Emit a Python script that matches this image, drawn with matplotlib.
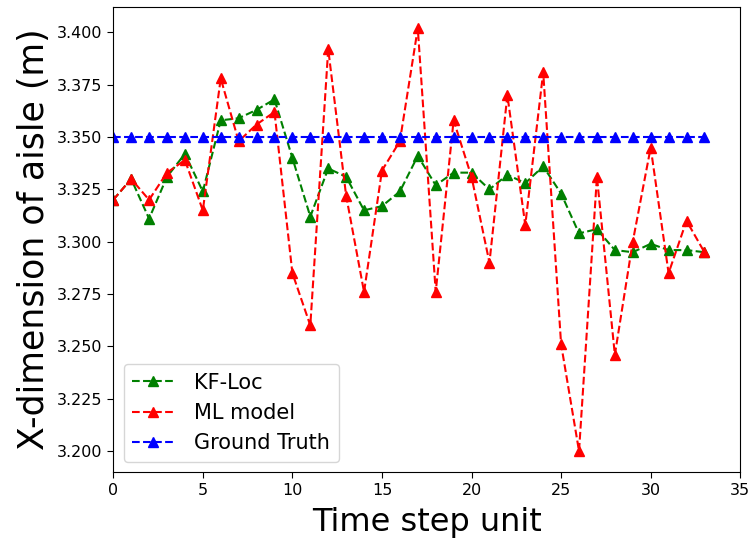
import matplotlib
matplotlib.use("Agg")
import matplotlib.pyplot as plt
import numpy as np

# values
time_steps = np.arange(34)

kf_loc = [3.320, 3.330, 3.311, 3.331, 3.342, 3.324, 3.358, 3.359, 3.363, 3.368,
          3.340, 3.312, 3.335, 3.331, 3.315, 3.317, 3.324, 3.341, 3.327, 3.333,
          3.333, 3.325, 3.332, 3.328, 3.336, 3.323, 3.304, 3.306, 3.296, 3.295,
          3.299, 3.296, 3.296, 3.295]

ml_model = [3.320, 3.330, 3.320, 3.333, 3.339, 3.315, 3.378, 3.348, 3.356, 3.362,
            3.285, 3.260, 3.392, 3.322, 3.276, 3.334, 3.348, 3.402, 3.276, 3.358,
            3.331, 3.290, 3.370, 3.308, 3.381, 3.251, 3.200, 3.331, 3.246, 3.300,
            3.345, 3.285, 3.310, 3.295]

ground_truth = [3.350] * 34

fig = plt.figure(figsize=(7.5, 5.44), dpi=100)
ax = fig.add_axes([0.151, 0.132, 0.836, 0.855])

ax.plot(time_steps, kf_loc, "g--^", markersize=7, label="KF-Loc")
ax.plot(time_steps, ml_model, "r--^", markersize=7, label="ML model")
ax.plot(time_steps, ground_truth, "b--^", markersize=7, label="Ground Truth")

ax.set_xlim(0, 35)
ax.yaxis.set_major_formatter(matplotlib.ticker.FormatStrFormatter("%.3f"))
ax.tick_params(labelsize=11.5, length=4.5)
ax.set_xlabel("Time step unit", fontsize=23, labelpad=6)
ax.set_ylabel("X-dimension of aisle (m)", fontsize=25)
ax.legend(loc="lower left", fontsize=15, handletextpad=1.0)

fig.savefig("out.png", dpi=100)
